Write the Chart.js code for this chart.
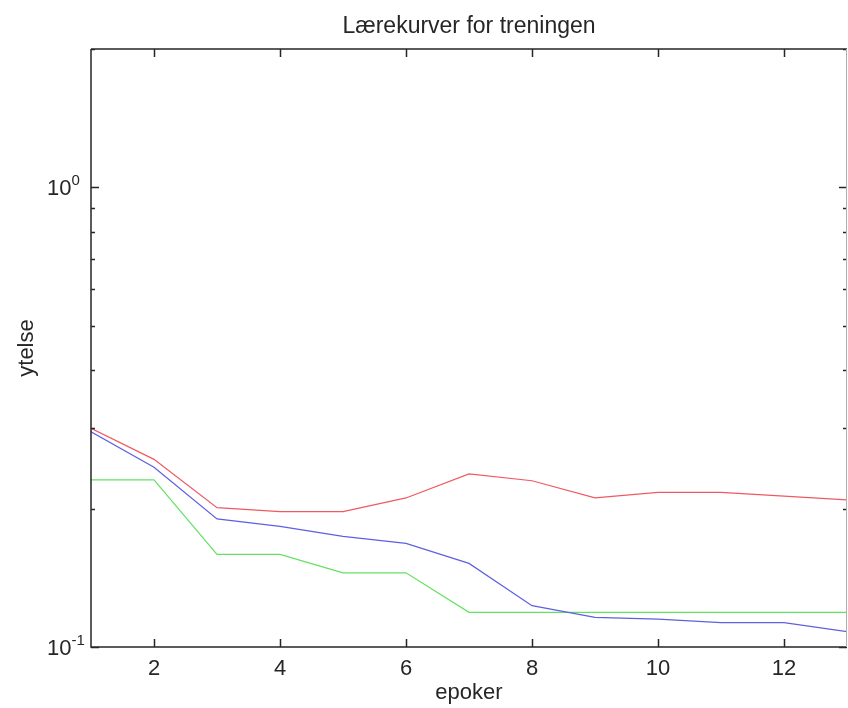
<!DOCTYPE html>
<html>
<head>
<meta charset="utf-8">
<script src="https://cdn.jsdelivr.net/npm/chart.js@4"></script>
<style>
  body { margin: 0; background: #fff; }
  #wrap { width: 848px; height: 708px; position: relative; }
</style>
</head>
<body>
<div id="wrap"><canvas id="myChart"></canvas></div>
<script>
const epochs = [1, 2, 3, 4, 5, 6, 7, 8, 9, 10, 11, 12, 13];
const redValues = [0.299, 0.256, 0.201, 0.197, 0.197, 0.211, 0.238, 0.230, 0.211, 0.217, 0.217, 0.213, 0.209];
const blueValues = [0.294, 0.246, 0.190, 0.183, 0.174, 0.168, 0.152, 0.123, 0.116, 0.115, 0.113, 0.113, 0.108];
const greenValues = [0.231, 0.231, 0.159, 0.159, 0.145, 0.145, 0.119, 0.119, 0.119, 0.119, 0.119, 0.119, 0.119];

const xTicks = [2, 4, 6, 8, 10, 12];
const yMajorTicks = [0.1, 1];
const yMajorExp = ["-1", "0"];
const yMinorTicks = [0.2, 0.3, 0.4, 0.5, 0.6, 0.7, 0.8, 0.9, 2];

const chartTitle = "Lærekurver for treningen";
const xTitle = "epoker";
const yTitle = "ytelse";

const toPoints = (vals) => epochs.map((e, i) => ({ x: e, y: vals[i] }));
const FONT = "'Liberation Sans', Arial, sans-serif";

// axes, ticks and labels drawn matlab-style (ticks pointing inward)
const axesPlugin = {
  id: "axesPlugin",
  afterDraw(chart) {
    const c = chart.ctx;
    const a = chart.chartArea;
    const xs = chart.scales.x;
    const ys = chart.scales.y;
    c.save();

    c.strokeStyle = "#262626";
    c.lineWidth = 1.5;
    c.beginPath();
    c.moveTo(a.left, a.top);
    c.lineTo(a.right, a.top);
    c.moveTo(a.left, a.top);
    c.lineTo(a.left, a.bottom);
    c.lineTo(a.right, a.bottom);
    // ticks on bottom and top
    xTicks.forEach((t) => {
      const px = Math.round(xs.getPixelForValue(t)) + 0.5;
      c.moveTo(px, a.bottom);
      c.lineTo(px, a.bottom - 8);
      c.moveTo(px, a.top);
      c.lineTo(px, a.top + 8);
    });
    yMajorTicks.forEach((t) => {
      const py = Math.round(ys.getPixelForValue(t)) + 0.5;
      c.moveTo(a.left, py);
      c.lineTo(a.left + 8, py);
      c.moveTo(a.right, py);
      c.lineTo(a.right - 8, py);
    });
    yMinorTicks.forEach((t) => {
      const py = Math.round(ys.getPixelForValue(t)) + 0.5;
      c.moveTo(a.left, py);
      c.lineTo(a.left + 4, py);
      c.moveTo(a.right, py);
      c.lineTo(a.right - 4, py);
    });
    c.stroke();

    // right border, lighter
    c.strokeStyle = "#b0b0b0";
    c.lineWidth = 1;
    c.beginPath();
    c.moveTo(a.right - 0.5, a.top);
    c.lineTo(a.right - 0.5, a.bottom);
    c.stroke();

    c.fillStyle = "#262626";
    // x tick labels
    c.font = "22px " + FONT;
    c.textAlign = "center";
    c.textBaseline = "alphabetic";
    xTicks.forEach((t) => {
      c.fillText(String(t), xs.getPixelForValue(t), 675);
    });

    // y tick labels 10^n
    yMajorTicks.forEach((t, i) => {
      const py = ys.getPixelForValue(t);
      c.font = "22px " + FONT;
      c.textAlign = "left";
      c.fillText("10", 47, py + 8);
      const w = c.measureText("10").width;
      c.font = "15px " + FONT;
      c.fillText(yMajorExp[i], 47 + w, py - 2);
    });

    // title
    c.font = "23px " + FONT;
    c.textAlign = "center";
    c.fillText(chartTitle, (a.left + a.right) / 2, 33);

    // axis titles
    c.font = "22px " + FONT;
    c.fillText(xTitle, (a.left + a.right) / 2, 699);
    c.translate(33, (a.top + a.bottom) / 2);
    c.rotate(-Math.PI / 2);
    c.fillText(yTitle, 0, 0);

    c.restore();
  },
};

const ctx = document.getElementById("myChart");

new Chart(ctx, {
  type: "line",
  data: {
    datasets: [
      {
        label: "red",
        data: toPoints(redValues),
        borderColor: "rgb(238, 90, 100)",
        borderWidth: 1.2,
        pointRadius: 0,
        tension: 0,
      },
      {
        label: "blue",
        data: toPoints(blueValues),
        borderColor: "rgb(95, 95, 225)",
        borderWidth: 1.2,
        pointRadius: 0,
        tension: 0,
      },
      {
        label: "green",
        data: toPoints(greenValues),
        borderColor: "rgb(100, 225, 100)",
        borderWidth: 1.2,
        pointRadius: 0,
        tension: 0,
      },
    ],
  },
  options: {
    responsive: true,
    maintainAspectRatio: false,
    animation: false,
    layout: { padding: { left: 91, right: 1, top: 49, bottom: 61 } },
    plugins: {
      legend: { display: false },
      tooltip: { enabled: false },
    },
    scales: {
      x: { type: "linear", min: 1, max: 13, display: false },
      y: { type: "logarithmic", min: 0.1, max: 2, display: false },
    },
  },
  plugins: [axesPlugin],
});
</script>
</body>
</html>
